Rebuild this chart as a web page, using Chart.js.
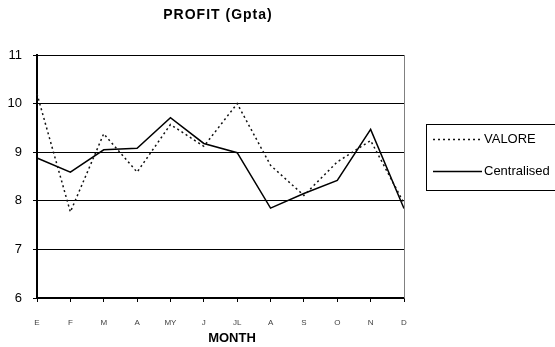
<!DOCTYPE html>
<html>
<head>
<meta charset="utf-8">
<script src="https://cdn.jsdelivr.net/npm/chart.js@4.4.0/dist/chart.umd.min.js"></script>
<style>
html, body { margin: 0; padding: 0; background: #fff; }
</style>
</head>
<body>
<canvas id="profitChart" width="555" height="347"></canvas>
<script>
const months = ["E", "F", "M", "A", "MY", "J", "JL", "A", "S", "O", "N", "D"];
const valore = [10.2, 7.77, 9.38, 8.59, 9.57, 9.12, 10.0, 8.73, 8.11, 8.8, 9.24, 7.95];
const centralised = [8.88, 8.59, 9.05, 9.08, 9.71, 9.18, 8.99, 7.85, 8.15, 8.42, 9.47, 7.84];
const yTicks = [6, 7, 8, 9, 10, 11];

const FONT = "'Liberation Sans', Arial, sans-serif";

// ➤ Titles, right border and boxed legend
const decorations = {
    id: "decorations",
    afterDraw(chart) {
        const ctx = chart.ctx;
        const area = chart.chartArea;
        ctx.save();

        ctx.strokeStyle = "#808080";
        ctx.lineWidth = 1;
        ctx.beginPath();
        ctx.moveTo(Math.round(area.right) + 0.5, area.top);
        ctx.lineTo(Math.round(area.right) + 0.5, area.bottom);
        ctx.stroke();

        ctx.fillStyle = "#000";
        ctx.font = "bold 14px " + FONT;
        ctx.letterSpacing = "1px";
        ctx.textAlign = "center";
        ctx.textBaseline = "middle";
        ctx.fillText("PROFIT (Gpta)", 218, 15);
        ctx.letterSpacing = "0px";

        ctx.font = "bold 13px " + FONT;
        ctx.fillText("MONTH", 232, 338);

        ctx.strokeStyle = "#000";
        ctx.lineWidth = 1;
        ctx.strokeRect(426.5, 124.5, 140, 66);

        ctx.font = "13px " + FONT;
        ctx.textAlign = "left";
        chart.data.datasets.forEach((ds, i) => {
            const y = 139.5 + i * 32;
            ctx.setLineDash(ds.borderDash || []);
            ctx.strokeStyle = ds.borderColor;
            ctx.lineWidth = ds.borderWidth;
            ctx.beginPath();
            ctx.moveTo(433, y);
            ctx.lineTo(482, y);
            ctx.stroke();
            ctx.setLineDash([]);
            ctx.fillText(ds.label, 484, y);
        });
        ctx.restore();
    }
};

new Chart(document.getElementById("profitChart"), {
    type: "line",
    data: {
        labels: months,
        datasets: [
            {
                label: "VALORE",
                data: valore,
                borderColor: "#111",
                borderWidth: 1.5,
                borderDash: [2, 3],
                pointRadius: 0,
                tension: 0
            },
            {
                label: "Centralised",
                data: centralised,
                borderColor: "#000",
                borderWidth: 1.5,
                pointRadius: 0,
                tension: 0
            }
        ]
    },
    options: {
        responsive: false,
        animation: false,
        layout: { padding: { top: 55, right: 151, left: 0, bottom: 0 } },
        plugins: {
            legend: { display: false },
            title: { display: false },
            tooltip: { enabled: false }
        },
        scales: {
            x: {
                offset: false,
                afterFit: scale => { scale.height = 49; },
                border: { color: "#000", width: 1.5 },
                grid: { drawOnChartArea: false, drawTicks: true, tickLength: 4, color: "#000" },
                ticks: { color: "#404040", font: { family: FONT, size: 8 }, padding: 16, maxRotation: 0, autoSkip: false }
            },
            y: {
                min: 6,
                max: 11,
                afterFit: scale => { scale.width = 37; },
                afterBuildTicks: scale => { scale.ticks = yTicks.map(v => ({ value: v })); },
                border: { color: "#000", width: 2 },
                grid: { color: "#000", lineWidth: 1, tickLength: 4 },
                ticks: { color: "#000", font: { family: FONT, size: 13 }, padding: 11 }
            }
        }
    },
    plugins: [decorations]
});
</script>
</body>
</html>
